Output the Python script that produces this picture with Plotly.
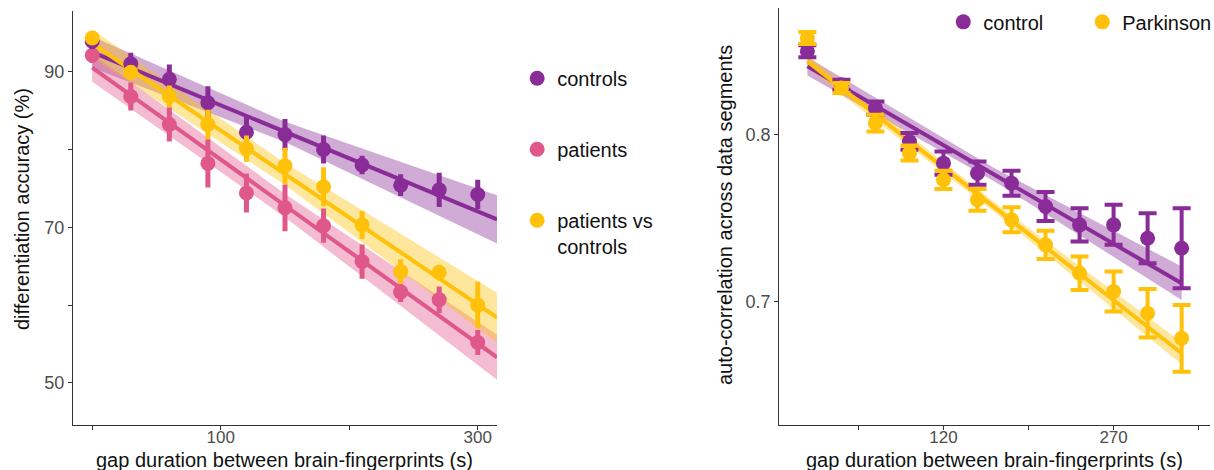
import plotly.graph_objects as go

# ---------------- data: left panel (differentiation accuracy) ----------------
gap_left = [0, 30, 60, 90, 120, 150, 180, 210, 240, 270, 300]
controls = [93.9, 91.0, 89.0, 86.0, 82.2, 81.9, 80.0, 78.0, 75.4, 74.8, 74.2]
controls_err = [1.0, 1.4, 1.9, 2.1, 2.0, 2.0, 1.8, 1.2, 1.4, 2.2, 1.9]
patients = [92.1, 86.8, 83.2, 78.2, 74.4, 72.5, 70.2, 65.6, 61.7, 60.7, 55.2]
patients_err = [1.0, 1.8, 2.2, 3.1, 2.5, 3.0, 2.2, 2.2, 1.3, 1.7, 1.6]
pvc = [94.3, 89.9, 86.8, 83.2, 80.1, 77.9, 75.2, 70.3, 64.3, 64.2, 60.0]
pvc_err = [0.8, 0.9, 1.4, 1.9, 1.7, 2.3, 2.5, 1.8, 1.6, 1.0, 3.0]

# fitted lines (value at start / end of fit range) and CI half-widths at fit_x_left
fit_x_left = [0, 150, 315]
controls_fit = [92.5, 71.0]
patients_fit = [90.5, 53.3]
pvc_fit = [93.6, 58.4]
controls_ci = [2.0, 1.3, 3.1]
patients_ci = [1.8, 1.5, 2.9]
pvc_ci = [1.8, 1.4, 3.2]

# ---------------- data: right panel (auto-correlation) ----------------
gap_right = [0, 30, 60, 90, 120, 150, 180, 210, 240, 270, 300, 330]
control = [0.850, 0.830, 0.816, 0.796, 0.783, 0.777, 0.771, 0.757, 0.746, 0.746, 0.738, 0.732]
control_err = [0.0036, 0.003, 0.004, 0.005, 0.007, 0.007, 0.0075, 0.0087, 0.010, 0.012, 0.015, 0.024]
parkinson = [0.858, 0.828, 0.807, 0.789, 0.773, 0.761, 0.749, 0.734, 0.717, 0.706, 0.693, 0.678]
parkinson_err = [0.0036, 0.003, 0.005, 0.0045, 0.0055, 0.0065, 0.0075, 0.0085, 0.010, 0.012, 0.0145, 0.020]

fit_x_right = [0, 165, 330]
control_fit = [0.841, 0.711]
parkinson_fit = [0.844, 0.669]
control_ci = [0.0055, 0.004, 0.010]
parkinson_ci = [0.004, 0.003, 0.0066]

# tick labels
left_xticks = [0, 100, 200, 300]
left_xticktext = ["", "100", "", "300"]
left_yticks = [50, 60, 70, 80, 90]
left_yticktext = ["50", "", "70", "", "90"]
right_xticks = [45, 120, 195, 270, 345]
right_xticktext = ["", "120", "", "270", ""]
right_yticks = [0.7, 0.8]
right_yticktext = ["0.7", "0.8"]

x_title = "gap duration between brain-fingerprints (s)"
left_y_title = "differentiation accuracy (%)"
right_y_title = "auto-correlation across data segments"

PURPLE = "#8A2C98"
PINK = "#E0588A"
YELLOW = "#FFC10A"


def rgba(hexc, a):
    h = hexc.lstrip("#")
    r, g, b = int(h[0:2], 16), int(h[2:4], 16), int(h[4:6], 16)
    return f"rgba({r},{g},{b},{a})"


FONT = "Liberation Sans, Arial, Helvetica, sans-serif"

fig = go.Figure()


def add_fit(xs, fit, ci, color, xa, ya):
    x0, x1 = xs[0], xs[-1]
    centre = [fit[0] + (fit[1] - fit[0]) * (x - x0) / (x1 - x0) for x in xs]
    upper = [c + h for c, h in zip(centre, ci)]
    lower = [c - h for c, h in zip(centre, ci)]
    fig.add_trace(go.Scatter(
        x=list(xs) + list(xs)[::-1], y=upper + lower[::-1],
        fill="toself", fillcolor=rgba(color, 0.4), line=dict(width=0),
        mode="lines", hoverinfo="skip", showlegend=False, xaxis=xa, yaxis=ya))
    return centre


def add_line(xs, centre, color, xa, ya):
    fig.add_trace(go.Scatter(
        x=xs, y=centre, mode="lines", line=dict(color=color, width=4),
        showlegend=False, xaxis=xa, yaxis=ya, hoverinfo="skip"))


# left ribbons + lines
cl = add_fit(fit_x_left, controls_fit, controls_ci, PURPLE, "x", "y")
pl = add_fit(fit_x_left, patients_fit, patients_ci, PINK, "x", "y")
yl = add_fit(fit_x_left, pvc_fit, pvc_ci, YELLOW, "x", "y")
add_line(fit_x_left, cl, PURPLE, "x", "y")
add_line(fit_x_left, pl, PINK, "x", "y")
add_line(fit_x_left, yl, YELLOW, "x", "y")

# left points
for name, ys, err, col, grp in [
    ("patients", patients, patients_err, PINK, "b"),
    ("controls", controls, controls_err, PURPLE, "a"),
    ("patients vs<br>controls", pvc, pvc_err, YELLOW, "c"),
]:
    fig.add_trace(go.Scatter(
        x=gap_left, y=ys, mode="markers", name=name,
        marker=dict(color=col, size=15),
        error_y=dict(type="data", array=err, color=col, thickness=5, width=0),
        legend="legend", legendgroup=grp, legendrank={"a": 1, "b": 2, "c": 3}[grp],
        xaxis="x", yaxis="y"))

# right ribbons + lines
cr = add_fit(fit_x_right, control_fit, control_ci, PURPLE, "x2", "y2")
kr = add_fit(fit_x_right, parkinson_fit, parkinson_ci, YELLOW, "x2", "y2")
add_line(fit_x_right, cr, PURPLE, "x2", "y2")
add_line(fit_x_right, kr, YELLOW, "x2", "y2")

for name, ys, err, col, rank in [
    ("control", control, control_err, PURPLE, 1),
    ("Parkinson", parkinson, parkinson_err, YELLOW, 2),
]:
    fig.add_trace(go.Scatter(
        x=gap_right, y=ys, mode="markers", name=name,
        marker=dict(color=col, size=15),
        error_y=dict(type="data", array=err, color=col, thickness=4, width=9),
        legend="legend2", legendrank=rank, xaxis="x2", yaxis="y2"))

axis_common = dict(
    showline=True, linecolor="#333333", linewidth=1, showgrid=False, zeroline=False,
    ticks="outside", ticklen=4, tickcolor="#333333", automargin=False,
)
ytick_font = dict(family=FONT, size=18, color="#4D4D4D")
xaxis_extra = dict(ticklabelstandoff=-7, tickfont=dict(family=FONT, size=17, color="#4D4D4D"))
title_font = dict(family=FONT, size=20, color="#111111")

XL = [0.0601, 0.4094]
XR = [0.6417, 0.9967]
YD = [0.0957, 0.977]
YD2 = [0.0957, 0.983]

fig.update_layout(
    template="none",
    width=1214, height=470,
    margin=dict(l=0, r=0, t=0, b=0, autoexpand=False),
    paper_bgcolor="white", plot_bgcolor="white",
    font=dict(family=FONT, size=20, color="#111111"),
    xaxis=dict(domain=XL, range=[-15, 315], tickvals=left_xticks,
               ticktext=left_xticktext, anchor="y", **axis_common, **xaxis_extra),
    yaxis=dict(domain=YD, range=[44.6, 97.8], tickvals=left_yticks,
               ticktext=left_yticktext, anchor="x", tickfont=ytick_font, **axis_common),
    xaxis2=dict(domain=XR, range=[-25, 355], tickvals=right_xticks,
                ticktext=right_xticktext, anchor="y2", **axis_common, **xaxis_extra),
    yaxis2=dict(domain=YD2, range=[0.626, 0.876], tickvals=right_yticks,
                ticktext=right_yticktext, anchor="x2", tickfont=ytick_font, **axis_common),
    legend=dict(x=0.426, y=0.875, xanchor="left", yanchor="top",
                font=dict(family=FONT, size=20, color="#111111"),
                tracegroupgap=42, valign="top", bgcolor="rgba(0,0,0,0)"),
    legend2=dict(orientation="h", x=0.777, y=0.995, xanchor="left", yanchor="top",
                 font=dict(family=FONT, size=20, color="#111111"),
                 entrywidth=94, entrywidthmode="pixels", bgcolor="rgba(0,0,0,0)"),
    annotations=[
        dict(text=x_title, xref="paper", yref="paper", x=sum(XL) / 2, y=1 - 460 / 470,
             xanchor="center", yanchor="middle", showarrow=False, font=title_font),
        dict(text=x_title, xref="paper", yref="paper", x=sum(XR) / 2, y=1 - 460 / 470,
             xanchor="center", yanchor="middle", showarrow=False, font=title_font),
        dict(text=left_y_title, xref="paper", yref="paper", x=22 / 1214, y=1 - 209 / 470,
             xanchor="center", yanchor="middle", textangle=-90, showarrow=False, font=title_font),
        dict(text=right_y_title, xref="paper", yref="paper", x=725 / 1214, y=1 - 215 / 470,
             xanchor="center", yanchor="middle", textangle=-90, showarrow=False, font=title_font),
    ],
)

fig.write_html("out.html")
